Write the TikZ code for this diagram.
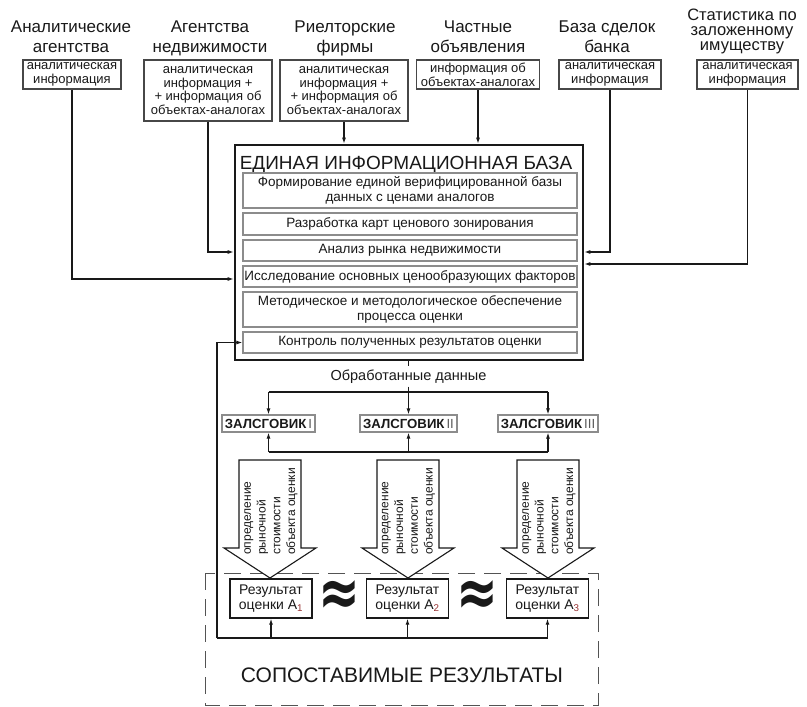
\documentclass[tikz,border=0pt]{standalone}
\usepackage{fontspec}
\setmainfont{Liberation Sans}
\newfontfamily\symfont{DejaVu Sans}
\usetikzlibrary{arrows.meta}
\definecolor{subred}{rgb}{0.6,0.2,0.2}
\definecolor{ink}{gray}{0.1}
\begin{document}
\begin{tikzpicture}[x=1pt,y=-1pt,
  hdr/.style={font=\fontsize{17}{20}\selectfont, align=center, inner sep=0pt, anchor=north, text=ink},
  src/.style={draw=ink!80, line width=1.1pt, font=\fontsize{13}{13.8}\selectfont, align=center, inner sep=0pt, text=ink},
  ibox/.style={draw=black!45, line width=1.2pt, minimum width=334pt, font=\fontsize{13.5}{15}\selectfont, align=center, inner sep=0pt, text=ink},
  zbox/.style={draw=black!45, line width=1.1pt, minimum height=17pt, font=\bfseries\fontsize{13.2}{14}\selectfont, inner sep=0pt, text=ink},
  rbox/.style={draw=ink, line width=1.4pt, minimum width=82pt, minimum height=39pt, font=\fontsize{14}{15.5}\selectfont, align=center, inner sep=0pt, fill=white, text=ink},
  arr/.style={draw=ink, line width=1.1pt, -{Latex[length=6pt,width=4pt]}},
  ln/.style={draw=ink, line width=1.1pt},
  blk/.style={draw=ink, line width=1.1pt, fill=white, line join=miter},
  rot/.style={rotate=90, anchor=west, align=left, inner sep=0pt, font=\fontsize{12}{14.7}\selectfont, text=ink},
  approx/.style={font=\symfont\bfseries\fontsize{50}{50}\selectfont, inner sep=0pt, text=ink, yscale=1.35},
]
\useasboundingbox (0,0) rectangle (807,707);
\fill[white] (0,0) rectangle (807,707);

% headers
\node[hdr] (h1) at (71,20.7) {Аналитические\\агентства};
\node[hdr] (h2) at (210,20.7) {Агентства\\недвижимости};
\node[hdr] (h3) at (345,20.7) {Риелторские\\фирмы};
\node[hdr] (h4) at (478,20.7) {Частные\\объявления};
\node[hdr] (h5) at (607,20.7) {База сделок\\банка};
\node[hdr, font=\fontsize{16.5}{15.2}\selectfont] (h6) at (742,8.5) {Статистика по\\заложенному\\имуществу};

% source boxes
\node[src, minimum width=98pt, minimum height=29pt] (b1) at (72,74.5) {аналитическая\\информация};
\node[src, minimum width=128pt, minimum height=61pt] (b2) at (208,90.5) {аналитическая\\информация +\\+ информация об\\объектах-аналогах};
\node[src, minimum width=128pt, minimum height=61pt] (b3) at (344,90.5) {аналитическая\\информация +\\+ информация об\\объектах-аналогах};
\node[src, minimum width=123pt, minimum height=29pt] (b4) at (478,74.5) {информация об\\объектах-аналогах};
\node[src, minimum width=102pt, minimum height=29pt] (b5) at (610,74.5) {аналитическая\\информация};
\node[src, minimum width=101pt, minimum height=29pt] (b6) at (747.5,74.5) {аналитическая\\информация};

% main box
\node[draw=ink, line width=2.6pt, minimum width=348pt, minimum height=215pt, inner sep=0pt] (main) at (409,252.5) {};
\node[font=\fontsize{19}{19}\selectfont, anchor=base, inner sep=0pt, text=ink] (title) at (406,169.5) {ЕДИНАЯ ИНФОРМАЦИОННАЯ БАЗА};
\node[ibox, minimum height=35pt] (ib1) at (410,190.5) {Формирование единой верифицированной базы\\данных с ценами аналогов};
\node[ibox, minimum height=22pt] (ib2) at (410,224) {Разработка карт ценового зонирования};
\node[ibox, minimum height=21pt] (ib3) at (410,250.5) {Анализ рынка недвижимости};
\node[ibox, minimum height=21pt] (ib4) at (410,276.5) {Исследование основных ценообразующих факторов};
\node[ibox, minimum height=35pt] (ib5) at (410,309.5) {Методическое и методологическое обеспечение\\процесса оценки};
\node[ibox, minimum height=21pt] (ib6) at (410,342.5) {Контроль полученных результатов оценки};

% source connectors
\coordinate (yA) at (0,279);
\coordinate (yB) at (0,252);
\coordinate (yC) at (0,264);
\draw[arr] (b1.south) |- (main.west |- yA);
\draw[arr] (b2.south) |- (main.west |- yB);
\draw[arr] (b3.south) -- (b3.south |- main.north);
\draw[arr] (b4.south) -- (b4.south |- main.north);
\draw[arr] (b5.south) |- (main.east |- yB);
\draw[arr] (b6.south) |- (main.east |- yC);

% processed data
\node[font=\fontsize{14.5}{15}\selectfont, anchor=base, text=ink] (od) at (408.5,380) {Обработанные данные};
\draw[ln] (main.south -| od) -- (od.north);
\coordinate (sp) at (408.5,392);
\draw[ln] (od.south) -- (sp);

\node[zbox, minimum width=93pt] (z1) at (268.5,423.5) {ЗАЛСГОВИК\hspace{2pt}{\mdseries\color{black!65}I}};
\node[zbox, minimum width=97pt] (z2) at (408.5,423.5) {ЗАЛСГОВИК\hspace{2pt}{\mdseries\color{black!65}II}};
\node[zbox, minimum width=100pt] (z3) at (548,423.5) {ЗАЛСГОВИК\hspace{2pt}{\mdseries\color{black!65}III}};
\draw[ln] (sp -| z1) -- (sp -| z3);
\draw[arr] (sp -| z1) -- (z1.north);
\draw[arr] (sp) -- (z2.north);
\draw[arr] (sp -| z3) -- (z3.north);

\coordinate (jn) at (408.5,452);
\draw[ln] (jn -| z1) -- (jn -| z3);
\draw[arr] (jn -| z1) -- (z1.south);
\draw[arr] (jn) -- (z2.south);
\draw[arr] (jn -| z3) -- (z3.south);

% dashed frame
\draw[draw=ink!75, line width=1pt, dash pattern=on 17pt off 9pt] (205,573) rectangle (598,705);

% block arrows
\foreach \xc in {270,408,548} {
  \draw[blk] ({\xc-31},460) -- ({\xc+31},460) -- ({\xc+31},548) -- ({\xc+46},548) -- (\xc,578) -- ({\xc-46},548) -- ({\xc-31},548) -- cycle;
}
\node[rot] (t1) at (271,555) {определение\\рыночной\\стоимости\\объекта оценки};
\node[rot] (t2) at (408.5,555) {определение\\рыночной\\стоимости\\объекта оценки};
\node[rot] (t3) at (549,555) {определение\\рыночной\\стоимости\\объекта оценки};

% results
\node[rbox] (r1) at (271,598.5) {Результат\\оценки A\textsubscript{\color{subred}1}};
\node[rbox] (r2) at (407.5,598.5) {Результат\\оценки A\textsubscript{\color{subred}2}};
\node[rbox] (r3) at (547.5,598.5) {Результат\\оценки A\textsubscript{\color{subred}3}};
\node[approx] (ap1) at (339,598) {≈};
\node[approx] (ap2) at (477.5,598) {≈};

% feedback
\coordinate (fb) at (217,638);
\draw[arr] (fb) |- (ib6.west);
\draw[ln] (fb) -- (fb -| r3.south);
\draw[arr] (fb -| r1.south) -- (r1.south);
\draw[arr] (fb -| r2.south) -- (r2.south);
\draw[arr] (fb -| r3.south) -- (r3.south);

\node[font=\fontsize{21}{21}\selectfont, anchor=base, inner sep=0pt, text=ink] (cmp) at (402,682) {СОПОСТАВИМЫЕ РЕЗУЛЬТАТЫ};
\end{tikzpicture}
\end{document}
